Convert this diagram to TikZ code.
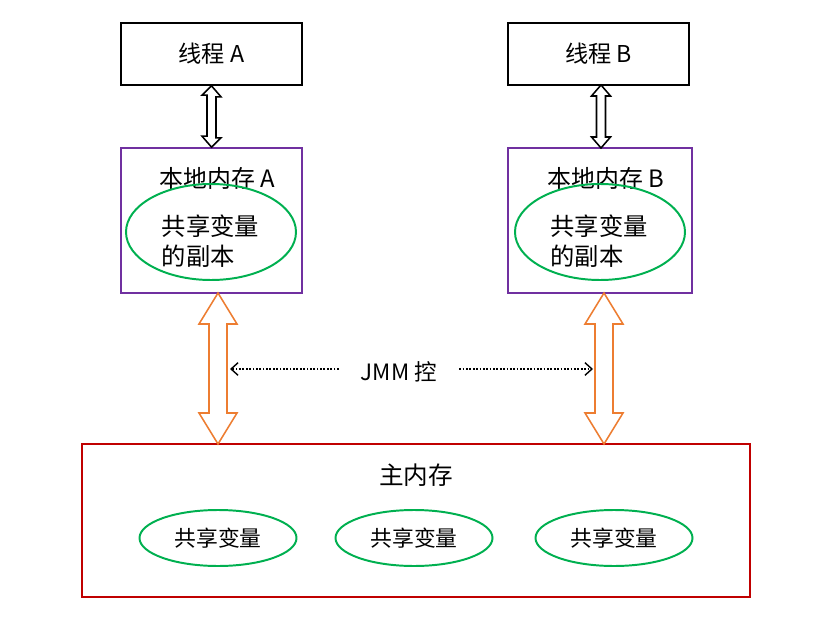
\documentclass[tikz,border=0pt]{standalone}
\usepackage{fontspec}
\setmainfont{Noto Sans CJK SC}
\usetikzlibrary{positioning, arrows.meta, shapes.geometric, calc}

\definecolor{jpurple}{RGB}{112,48,160}
\definecolor{jred}{RGB}{192,0,0}
\definecolor{jgreen}{RGB}{0,176,80}
\definecolor{jorange}{RGB}{237,125,49}

\begin{document}
\begin{tikzpicture}[
    x=0.025cm, y=-0.025cm,
    thread/.style={rectangle, draw=black, line width=1.2pt, minimum width=181*0.025cm,
                   minimum height=62*0.025cm, font=\fontsize{16.5}{19}\selectfont},
    local/.style={rectangle, draw=jpurple, line width=1.2pt, minimum height=145*0.025cm},
    mainmem/.style={rectangle, draw=jred, line width=1.2pt, minimum width=668*0.025cm,
                    minimum height=153*0.025cm},
    copyvar/.style={ellipse, draw=jgreen, line width=1.4pt, minimum width=170*0.025cm,
                    minimum height=96*0.025cm},
    sharevar/.style={ellipse, draw=jgreen, line width=1.4pt, minimum width=157*0.025cm,
                     minimum height=56*0.025cm, font=\fontsize{15.5}{18}\selectfont},
    title/.style={font=\fontsize{17}{20}\selectfont},
    fatblack/.style={draw=black, line width=1.1pt, fill=white, line join=miter},
    fatorange/.style={draw=jorange, line width=1.1pt, fill=white, line join=miter},
    ctrl/.style={-{Straight Barb[length=5pt, width=9pt, line width=1pt]}, line width=1.3pt,
                 dash pattern=on 1.2pt off 1.2pt}
]
    \useasboundingbox (0,0) rectangle (821,636);

    % Threads
    \node[thread] (thA) at (211.5,54) {线程 A};
    \node[thread] (thB) at (598.5,54) {线程 B};

    % Local memories
    \node[local, minimum width=181*0.025cm] (locA) at (211.5,220.5) {};
    \node[local, minimum width=184*0.025cm] (locB) at (600,220.5) {};
    \node[title] (locAt) at (217.5,178) {本地内存 A};
    \node[title] (locBt) at (606,178) {本地内存 B};
    \node[copyvar] (cpA) at (211,232) {};
    \node[copyvar] (cpB) at (600,232) {};
    \node[align=left, font=\fontsize{17.3}{21.5}\selectfont] at (210.5,241) {共享变量\\的副本};
    \node[align=left, font=\fontsize{17.3}{21.5}\selectfont] at (599,241) {共享变量\\的副本};

    % Main memory
    \node[mainmem] (mem) at (416,520.5) {};
    \node[title, font=\fontsize{17.5}{20}\selectfont] (memt) at (416,475) {主内存};
    \node[sharevar] (varA) at (218,538) {共享变量};
    \node[sharevar] (varB) at (414,538) {共享变量};
    \node[sharevar] (varC) at (614,538) {共享变量};

    % Thread <-> local memory
    \coordinate (upTB) at (601,85);
    \coordinate (dnTB) at (601,148);
    \draw[fatblack] (thA.south) -- +(9.5,11) -- +(4.5,11) -- +(4.5,52) -- +(9.5,52)
        -- (locA.north) -- +(-9.5,-11) -- +(-4.5,-11) -- +(-4.5,-52) -- +(-9.5,-52) -- cycle;
    \draw[fatblack] (upTB) -- +(9.5,11) -- +(4.5,11) -- +(4.5,52) -- +(9.5,52)
        -- (dnTB) -- +(-9.5,-11) -- +(-4.5,-11) -- +(-4.5,-52) -- +(-9.5,-52) -- cycle;

    % Local memory <-> main memory
    \coordinate (upA) at (218,293);
    \coordinate (dnA) at (218,444);
    \coordinate (upB) at (604,293);
    \coordinate (dnB) at (604,444);
    \draw[fatorange] (upA) -- +(19,31) -- +(9,31) -- +(9,120) -- +(19,120)
        -- (dnA) -- +(-19,-31) -- +(-9,-31) -- +(-9,-120) -- +(-19,-120) -- cycle;
    \draw[fatorange] (upB) -- +(19,31) -- +(9,31) -- +(9,120) -- +(19,120)
        -- (dnB) -- +(-19,-31) -- +(-9,-31) -- +(-9,-120) -- +(-19,-120) -- cycle;

    % JMM control
    \node[font=\fontsize{16}{19}\selectfont, inner xsep=22*0.025cm] (jmm) at (399,372) {JMM 控};
    \coordinate (ctrlA) at (230,369);
    \coordinate (ctrlB) at (593,369);
    \draw[ctrl] (jmm.west |- ctrlA) -- (ctrlA);
    \draw[ctrl] (jmm.east |- ctrlB) -- (ctrlB);

\end{tikzpicture}
\end{document}
